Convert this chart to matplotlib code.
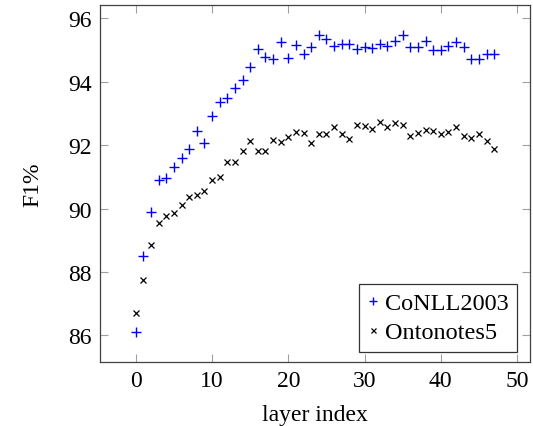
import matplotlib
matplotlib.use("Agg")
import matplotlib.pyplot as plt

layers = list(range(48))
conll2003 = [86.1, 88.49, 89.89, 90.9, 90.96, 91.32, 91.6, 91.88, 92.46, 92.06,
             92.91, 93.37, 93.48, 93.81, 94.05, 94.45, 95.03, 94.78, 94.71, 95.24,
             94.74, 95.15, 94.86, 95.11, 95.47, 95.36, 95.13, 95.18, 95.18, 95.03,
             95.08, 95.06, 95.18, 95.13, 95.29, 95.47, 95.11, 95.11, 95.29, 94.99,
             94.99, 95.13, 95.24, 95.11, 94.71, 94.71, 94.87, 94.87]
ontonotes5 = [86.69, 87.76, 88.84, 89.54, 89.75, 89.86, 90.12, 90.36, 90.44, 90.56,
              90.91, 90.99, 91.46, 91.48, 91.81, 92.12, 91.83, 91.83, 92.16, 92.09,
              92.27, 92.41, 92.38, 92.07, 92.35, 92.35, 92.56, 92.35, 92.19, 92.64,
              92.6, 92.51, 92.72, 92.56, 92.69, 92.64, 92.3, 92.38, 92.49, 92.44,
              92.35, 92.42, 92.56, 92.3, 92.22, 92.35, 92.14, 91.88]
xticks = [0, 10, 20, 30, 40, 50]
yticks = [86, 88, 90, 92, 94, 96]

plt.rcParams['font.family'] = ['Liberation Serif', 'DejaVu Serif']
plt.rcParams['mathtext.fontset'] = 'stix'

fig = plt.figure(figsize=(5.33, 4.27), dpi=100)
ax = fig.add_axes([100/533, 64/427, 430/533, 357/427])

ax.plot(layers, conll2003, linestyle='none', marker='+', color='#0000ff',
        markersize=7, markeredgewidth=1.0, label='CoNLL2003')
ax.plot(layers, ontonotes5, linestyle='none', marker='x', color='black',
        markersize=4.5, markeredgewidth=0.9, label='Ontonotes5')

ax.set_xlim(-4.7, 51.7)
ax.set_ylim(85.16, 96.42)
ax.set_xticks(xticks)
ax.set_yticks(yticks)
ax.tick_params(direction='in', top=True, right=True, length=6, width=0.8,
               color='#a0a0a0', labelsize=17, pad=6)
for s in ax.spines.values():
    s.set_color('#404040')
    s.set_linewidth(0.9)

ax.set_xlabel('layer index', fontsize=17, labelpad=9)
ax.set_ylabel('F1%', fontsize=17, labelpad=18)

leg = ax.legend(loc='lower right', fontsize=17.5, frameon=True, fancybox=False,
                edgecolor='black', handlelength=0.4, handletextpad=0.3,
                borderpad=0.35, labelspacing=0.3, markerscale=0.8,
                bbox_to_anchor=(0.97, 0.028), borderaxespad=0.0)
leg.get_frame().set_linewidth(0.9)

fig.savefig('out.png', dpi=100)
